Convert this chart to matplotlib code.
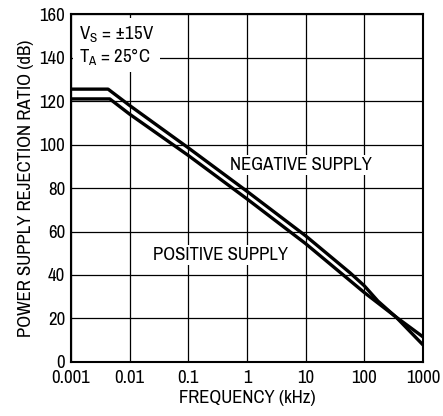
import matplotlib
matplotlib.use("Agg")
import matplotlib.pyplot as plt
from matplotlib import font_manager

names = {f.name for f in font_manager.fontManager.ttflist}
FONT = "Archivo Narrow" if "Archivo Narrow" in names else "Liberation Sans"
plt.rcParams['font.family'] = [FONT, 'DejaVu Sans']
plt.rcParams['mathtext.fontset'] = 'custom'
plt.rcParams['mathtext.rm'] = FONT
plt.rcParams['mathtext.it'] = FONT

# Data
neg_freq = [0.001, 0.0043, 0.01, 0.1, 1, 10, 57, 100, 170, 350, 1000]
neg_db = [125.5, 125.5, 118, 98.5, 78.5, 58, 41, 35, 28, 20.5, 7.8]
pos_freq = [0.001, 0.0046, 0.01, 0.1, 1, 10, 100, 353, 1000]
pos_db = [121, 121, 114, 95, 75, 54.4, 31.9, 20.5, 11.5]
xticks = [0.001, 0.01, 0.1, 1, 10, 100, 1000]
xticklabels = ["0.001", "0.01", "0.1", "1", "10", "100", "1000"]
yticks = [0, 20, 40, 60, 80, 100, 120, 140, 160]

FS = 13.5
fig = plt.figure(figsize=(4.43, 4.16), dpi=100)
ax = fig.add_axes([0.160, 0.130, 0.795, 0.836])
ax.set_xscale('log')
ax.set_xlim(0.001, 1000)
ax.set_ylim(0, 160)
ax.set_xticks(xticks)
ax.set_xticklabels(xticklabels)
ax.minorticks_off()
ax.set_yticks(yticks)
ax.tick_params(axis='x', length=0, labelsize=FS, pad=6)
ax.tick_params(axis='y', length=0, labelsize=FS, pad=4)
ax.grid(True, color='black', linewidth=0.9)
ax.set_axisbelow(True)
for s in ax.spines.values():
    s.set_linewidth(1.5)

ax.plot(neg_freq, neg_db, color='black', linewidth=2.4, solid_capstyle='butt', zorder=3)
ax.plot(pos_freq, pos_db, color='black', linewidth=2.4, solid_capstyle='butt', zorder=3)

bbox = dict(facecolor='white', edgecolor='none', pad=1.5)
ax.text(0.00138, 155.5, "V$_\\mathrm{S}$ = \u00b115V\nT$_\\mathrm{A}$ = 25\u00b0C", fontsize=FS,
        va='top', ha='left', linespacing=1.1, zorder=2,
        bbox=dict(facecolor='white', edgecolor='none', pad=4))
ax.text(8.3, 90.6, "NEGATIVE SUPPLY", fontsize=FS, ha='center', va='center', zorder=2, bbox=bbox)
ax.text(0.36, 49.2, "POSITIVE SUPPLY", fontsize=FS, ha='center', va='center', zorder=2, bbox=bbox)

ax.set_xlabel("FREQUENCY (kHz)", fontsize=FS, labelpad=3)
ax.set_ylabel("POWER SUPPLY REJECTION RATIO (dB)", fontsize=FS, labelpad=4)

fig.savefig("out.png", dpi=100)
